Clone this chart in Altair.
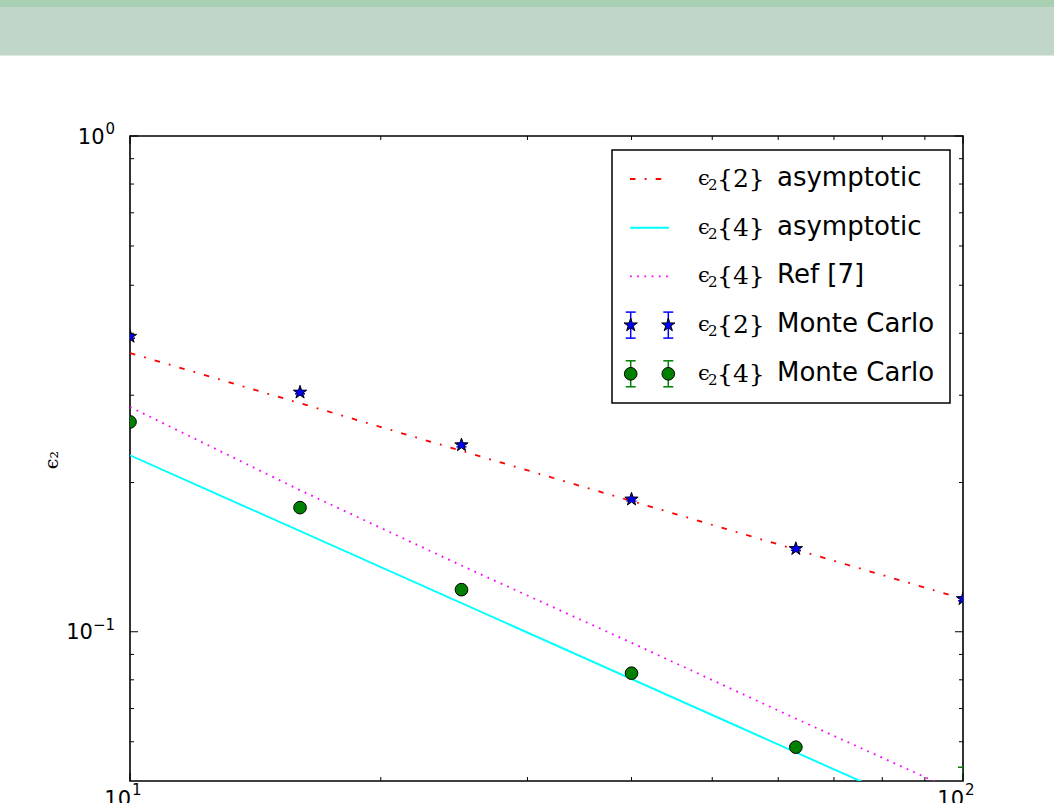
import altair as alt
import pandas as pd

# ---------------- data ----------------
n_vals = [10, 16, 25, 40, 63, 100]
mc2_vals = [0.394, 0.304, 0.238, 0.185, 0.147, 0.1165]
mc2_err = [0.003, 0.002, 0.002, 0.0015, 0.001, 0.001]
mc4_vals = [0.265, 0.178, 0.1216, 0.0825, 0.0585, 0.042]
mc4_err = [0.003, 0.002, 0.0015, 0.001, 0.0008, 0.0113]

asym2_n = [10, 100]
asym2_vals = [0.365, 0.1165]
asym4_n = [10, 100]
asym4_vals = [0.227, 0.0404]
ref7_n = [10, 16, 25, 40, 63, 100]
ref7_vals = [0.284, 0.193, 0.136, 0.095, 0.0668, 0.047]

y_major = [1.0, 0.1]
y_exp = ["0", "\u22121"]
y_minor = [0.06, 0.07, 0.08, 0.09, 0.2, 0.3, 0.4, 0.5, 0.6, 0.7, 0.8, 0.9]
x_major = [10, 100]
x_exp = ["1", "2"]
x_minor = [20, 30, 40, 50, 60, 70, 80, 90]

legend_math = ["{2}", "{4}", "{4}", "{2}", "{4}"]
legend_text = ["asymptotic", "asymptotic", "Ref [7]", "Monte Carlo", "Monte Carlo"]

# ---------------- layout ----------------
W, H = 833, 645
PAD = {"left": 130, "top": 136, "right": 91, "bottom": 22}
SANS = "DejaVu Sans"
SERIF = "DejaVu Serif"
STAR = ("M0,-1L0.2245,-0.309L0.951,-0.309L0.363,0.118L0.588,0.809L0,0.382"
        "L-0.588,0.809L-0.363,0.118L-0.951,-0.309L-0.2245,-0.309Z")
RED, CYAN, MAG, BLUE, GREEN = "#ff0000", "#00ffff", "#ff00ff", "#0000ff", "#008000"

xs = alt.Scale(type="log", domain=[10, 100], nice=False)
ys = alt.Scale(type="log", domain=[0.05, 1], nice=False)


def X(f):
    return alt.X(f, type="quantitative", scale=xs, axis=None)


def Y(f):
    return alt.Y(f, type="quantitative", scale=ys, axis=None)


one = pd.DataFrame({"k": [0]})
layers = []

# banner at the top of the page
layers.append(alt.Chart(one).mark_rect(color="#bfd6c8").encode(
    x=alt.value(-PAD["left"]), x2=alt.value(W + PAD["right"]),
    y=alt.value(-PAD["top"]), y2=alt.value(-81)))
layers.append(alt.Chart(one).mark_rect(color="#a9cfb3").encode(
    x=alt.value(-PAD["left"]), x2=alt.value(W + PAD["right"]),
    y=alt.value(-PAD["top"]), y2=alt.value(-129)))
layers.append(alt.Chart(one).mark_rect(color="#dde9e1").encode(
    x=alt.value(-PAD["left"]), x2=alt.value(W + PAD["right"]),
    y=alt.value(-81), y2=alt.value(-80)))

# lines
df_a2 = pd.DataFrame({"n": asym2_n, "v": asym2_vals})
df_a4 = pd.DataFrame({"n": asym4_n, "v": asym4_vals})
df_r7 = pd.DataFrame({"n": ref7_n, "v": ref7_vals})
layers.append(alt.Chart(df_a4).mark_line(color=CYAN, strokeWidth=1.9, clip=True).encode(x=X("n"), y=Y("v")))
layers.append(alt.Chart(df_r7).mark_line(color=MAG, strokeWidth=1.8, strokeDash=[1.8, 5.4], clip=True).encode(x=X("n"), y=Y("v")))
layers.append(alt.Chart(df_a2).mark_line(color=RED, strokeWidth=1.8, strokeDash=[5.5, 9.2, 1.8, 9.2], clip=True).encode(x=X("n"), y=Y("v")))

# Monte Carlo points with error bars
for vals, errs, col, shape, size in [(mc2_vals, mc2_err, BLUE, STAR, 196),
                                     (mc4_vals, mc4_err, GREEN, "circle", 160)]:
    df = pd.DataFrame({"n": n_vals, "v": vals,
                       "lo": [a - b for a, b in zip(vals, errs)],
                       "hi": [a + b for a, b in zip(vals, errs)]})
    layers.append(alt.Chart(df).mark_rule(color=col, strokeWidth=1.5, clip=True).encode(
        x=X("n"), y=Y("lo"), y2="hi"))
    for end in ["lo", "hi"]:
        layers.append(alt.Chart(df).mark_tick(color=col, orient="horizontal", size=10,
                                              thickness=1.5, opacity=1, clip=True).encode(x=X("n"), y=Y(end)))
    layers.append(alt.Chart(df).mark_point(shape=shape, size=size, filled=True, color=col,
                                           stroke="black", strokeWidth=1, opacity=1, clip=True).encode(
        x=X("n"), y=Y("v")))

# inward ticks on all four sides
dfy_maj = pd.DataFrame({"v": y_major})
dfy_min = pd.DataFrame({"v": y_minor})
dfx_maj = pd.DataFrame({"n": x_major})
dfx_min = pd.DataFrame({"n": x_minor})
for dfy, ln in [(dfy_maj, 8), (dfy_min, 4)]:
    layers.append(alt.Chart(dfy).mark_rule(color="black", strokeWidth=1).encode(
        y=Y("v"), x=alt.value(0), x2=alt.value(ln)))
    layers.append(alt.Chart(dfy).mark_rule(color="black", strokeWidth=1).encode(
        y=Y("v"), x=alt.value(W), x2=alt.value(W - ln)))
for dfx, ln in [(dfx_maj, 8), (dfx_min, 4)]:
    layers.append(alt.Chart(dfx).mark_rule(color="black", strokeWidth=1).encode(
        x=X("n"), y=alt.value(H), y2=alt.value(H - ln)))
    layers.append(alt.Chart(dfx).mark_rule(color="black", strokeWidth=1).encode(
        x=X("n"), y=alt.value(0), y2=alt.value(ln)))

# tick labels 10^k
def sup_width(s):
    return sum(11.7 if c == "\u2212" else 8.9 for c in s)

for v, e in zip(y_major, y_exp):
    d = pd.DataFrame({"v": [v], "b": ["10"], "e": [e]})
    layers.append(alt.Chart(d).mark_text(font=SANS, fontSize=21, align="right", baseline="alphabetic",
                                         dy=7.6).encode(
        y=Y("v"), x=alt.value(-15 - sup_width(e) - 1.5), text="b:N"))
    layers.append(alt.Chart(d).mark_text(font=SANS, fontSize=15, align="right", baseline="alphabetic",
                                         dy=-2).encode(
        y=Y("v"), x=alt.value(-15), text="e:N"))
for n, e in zip(x_major, x_exp):
    d = pd.DataFrame({"n": [n], "b": ["10"], "e": [e]})
    layers.append(alt.Chart(d).mark_text(font=SANS, fontSize=21, align="right", baseline="alphabetic",
                                         dx=1).encode(
        x=X("n"), y=alt.value(H + 25), text="b:N"))
    layers.append(alt.Chart(d).mark_text(font=SANS, fontSize=15, align="left", baseline="alphabetic",
                                         dx=2).encode(
        x=X("n"), y=alt.value(H + 14), text="e:N"))

# y axis title
layers.append(alt.Chart(one).mark_text(font=SERIF, fontSize=19, angle=270, align="center",
                                       baseline="middle", text="\u03f5\u2082").encode(
    x=alt.value(-78), y=alt.value(324)))

# ---------------- legend ----------------
LX0, LX1, LY0, LY1 = 482, 820, 14, 267
layers.append(alt.Chart(one).mark_rect(fill="white", stroke="black", strokeWidth=1.5).encode(
    x=alt.value(LX0), x2=alt.value(LX1), y=alt.value(LY0), y2=alt.value(LY1)))
rows = [43 + 48.7 * i for i in range(5)]
HX0, HX1 = 500, 539
styles = [(RED, [5.5, 9.2, 1.8, 9.2]), (CYAN, None), (MAG, [1.8, 5.4])]
for i, (col, dash) in enumerate(styles):
    kw = {"strokeDash": dash} if dash else {}
    layers.append(alt.Chart(one).mark_rule(color=col, strokeWidth=1.9, **kw).encode(
        x=alt.value(HX0), x2=alt.value(HX1), y=alt.value(rows[i])))
for i, (col, shape, size) in [(3, (BLUE, STAR, 196)), (4, (GREEN, "circle", 160))]:
    for mx in [500.7, 538.3]:
        layers.append(alt.Chart(one).mark_rule(color=col, strokeWidth=1.5).encode(
            x=alt.value(mx), y=alt.value(rows[i] - 13), y2=alt.value(rows[i] + 13)))
        for dy in [-13, 13]:
            layers.append(alt.Chart(one).mark_rule(color=col, strokeWidth=1.5).encode(
                x=alt.value(mx - 5), x2=alt.value(mx + 5), y=alt.value(rows[i] + dy)))
        layers.append(alt.Chart(one).mark_point(shape=shape, size=size, filled=True, color=col,
                                                stroke="black", strokeWidth=1, opacity=1).encode(
            x=alt.value(mx), y=alt.value(rows[i])))
for i, (m, t) in enumerate(zip(legend_math, legend_text)):
    d = pd.DataFrame({"eps": ["\u03f5"], "sub": ["2"], "m": [m], "t": [t]})
    layers.append(alt.Chart(d).mark_text(font=SERIF, fontSize=21, align="left", baseline="alphabetic").encode(
        x=alt.value(568), y=alt.value(rows[i] + 6), text="eps:N"))
    layers.append(alt.Chart(d).mark_text(font=SERIF, fontSize=15, align="left", baseline="alphabetic").encode(
        x=alt.value(578), y=alt.value(rows[i] + 11), text="sub:N"))
    layers.append(alt.Chart(d).mark_text(font=SERIF, fontSize=25, align="left", baseline="alphabetic").encode(
        x=alt.value(587), y=alt.value(rows[i] + 8), text="m:N"))
    layers.append(alt.Chart(d).mark_text(font=SANS, fontSize=26, align="left", baseline="alphabetic").encode(
        x=alt.value(647), y=alt.value(rows[i] + 7), text="t:N"))

chart = alt.layer(*layers).properties(
    width=W, height=H,
    autosize=alt.AutoSizeParams(type="none"),
    padding=PAD,
    background="white",
).configure_view(stroke="black", strokeWidth=1.6)

chart.save("out.html", embed_options={"renderer": "svg", "actions": False})
